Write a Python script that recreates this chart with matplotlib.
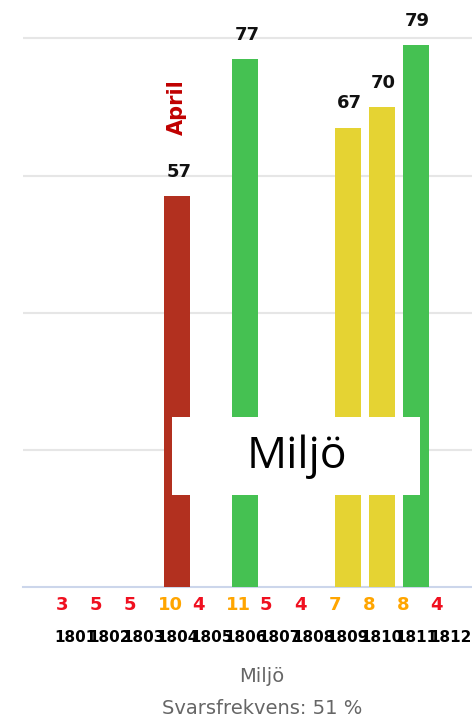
import numpy as np
import matplotlib.pyplot as plt
from matplotlib.patches import Rectangle

# monthly results, Miljö
months = ['1801', '1802', '1803', '1804', '1805', '1806',
          '1807', '1808', '1809', '1810', '1811', '1812']
scores = [None, None, None, 57, None, 77, None, None, 67, 70, 79, None]
answers = [3, 5, 5, 10, 4, 11, 5, 4, 7, 8, 8, 4]
bar_colors = {'1804': '#b2301f', '1806': '#45c152', '1809': '#e5d333',
              '1810': '#e5d333', '1811': '#45c152'}

fig = plt.figure(figsize=(4.72, 7.17), dpi=100)
ax = fig.add_axes([23 / 472, 1 - 587 / 717, 449 / 472, 587 / 717])

x = np.arange(len(months))
for i, (m, v) in enumerate(zip(months, scores)):
    if v is None:
        continue
    ax.bar(i, v, width=0.76, color=bar_colors[m], zorder=3)
    ax.annotate(str(v), (i, v), xytext=(1, 11), textcoords='offset points',
                ha='center', va='bottom', fontsize=13, fontweight='bold',
                color='#111111')

# number of answers under each month (orange when a bar is shown)
for i, (n, v) in enumerate(zip(answers, scores)):
    col = '#ffa500' if v is not None else '#f01020'
    ax.text(i - 0.57, -2.6, str(n), ha='left', va='center', fontsize=13,
            fontweight='bold', color=col, clip_on=False)

ax.text(3, 70, 'April', rotation=90, ha='center', va='center', fontsize=15,
        fontweight='bold', color='#c00000')

ax.set_xlim(-1.525, 11.645)
ax.set_ylim(0, 85.6)
ax.set_yticks([20, 40, 60, 80])
ax.set_yticklabels([])
ax.tick_params(axis='y', length=0)
ax.grid(axis='y', color='#e6e6e6', linewidth=1.5, zorder=0)
ax.set_xticks(x)
ax.set_xticklabels(months, fontsize=11, fontweight='bold')
ax.tick_params(axis='x', length=0, pad=31)
for s in ['top', 'right', 'left']:
    ax.spines[s].set_visible(False)
ax.spines['bottom'].set_color('#ccd6eb')
ax.spines['bottom'].set_linewidth(1.5)

fig.text(262 / 472, 1 - 677 / 717, 'Miljö', ha='center', va='center',
         fontsize=14, color='#666666')
fig.text(262 / 472, 1 - 708 / 717, 'Svarsfrekvens: 51 %', ha='center',
         va='center', fontsize=14, color='#666666')

# white label box over the chart
fig.patches.append(Rectangle((172 / 472, 1 - 495 / 717), 248 / 472, 78 / 717,
                             transform=fig.transFigure, facecolor='white',
                             edgecolor='none', zorder=5))
fig.text(297 / 472, 1 - 457 / 717, 'Miljö', ha='center', va='center',
         fontsize=32, family='Open Sans', color='black', zorder=6)

fig.savefig('out.png', dpi=100)
